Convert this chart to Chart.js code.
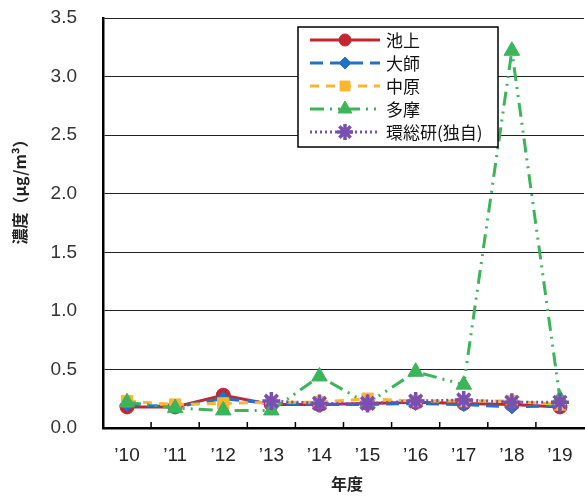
<!DOCTYPE html>
<html>
<head>
<meta charset="utf-8">
<script src="https://cdn.jsdelivr.net/npm/chart.js@4/dist/chart.umd.min.js"></script>
<style>
  html, body { margin: 0; padding: 0; background: #fff; }
  #wrap { width: 585px; height: 496px; }
</style>
</head>
<body>
<div id="wrap"><canvas id="line-canvas" width="585" height="496"></canvas></div>
<script>
// 年度ごとの濃度 (μg/m3)
var years = ["\u201910", "\u201911", "\u201912", "\u201913", "\u201914", "\u201915", "\u201916", "\u201917", "\u201918", "\u201919"];
var ikegami = [0.18, 0.18, 0.28, 0.20, 0.20, 0.21, 0.22, 0.21, 0.20, 0.18];
var daishi = [0.20, 0.18, 0.25, 0.21, 0.20, 0.20, 0.21, 0.20, 0.18, 0.19];
var nakahara = [0.23, 0.20, 0.21, 0.22, 0.22, 0.25, 0.23, 0.23, 0.23, 0.20];
var tama = [0.22, 0.17, 0.15, 0.15, 0.44, 0.21, 0.48, 0.37, 3.22, 0.25];
var kansoken = [null, null, null, 0.23, 0.21, 0.21, 0.23, 0.24, 0.22, 0.22];
var yTicks = [0, 0.5, 1.0, 1.5, 2.0, 2.5, 3.0, 3.5];

var fontName = "'Noto Sans CJK JP', 'Liberation Sans', sans-serif";
var numFont = "'Liberation Sans', 'DejaVu Sans', sans-serif";

function series(label, data, color, dash, style, radius, order) {
    return {
        label: label,
        data: data,
        borderColor: color,
        backgroundColor: color,
        borderWidth: 3,
        borderDash: dash,
        pointStyle: style,
        pointRadius: radius,
        pointBorderWidth: 1,
        pointBorderColor: color,
        pointBackgroundColor: color,
        tension: 0,
        spanGaps: false,
        order: order
    };
}

var datasets = [
    series("池上", ikegami, "#c4262e", [], "circle", 7, 5),
    series("大師", daishi, "#1f72c4", [13, 7], "rectRot", 7, 4),
    series("中原", nakahara, "#fbb62b", [9, 7], "rect", 8, 3),
    series("多摩", tama, "#3cb45a", [14, 6, 2, 6, 2, 6], "triangle", 9, 2),
    series("環総研(独自)", kansoken, "#7a4fb2", [2, 3], "star", 9, 1)
];
datasets[4].pointBorderWidth = 3.5;

// legend box, titles and inward x tick marks
var decorPlugin = {
    id: 'decor',
    afterDraw: function(chart) {
        var ctx = chart.ctx;
        var x = chart.scales.x;
        var area = chart.chartArea;
        ctx.save();

        // x tick marks between categories
        ctx.strokeStyle = "#000";
        ctx.lineWidth = 1.5;
        for (var i = 0; i < years.length - 1; i++) {
            var px = (x.getPixelForValue(i) + x.getPixelForValue(i + 1)) / 2;
            ctx.beginPath();
            ctx.moveTo(px, area.bottom);
            ctx.lineTo(px, area.bottom - 6);
            ctx.stroke();
        }

        // axis titles
        ctx.fillStyle = "#222";
        ctx.font = "bold 16px " + fontName;
        ctx.textAlign = "center";
        ctx.textBaseline = "middle";
        ctx.fillText("年度", 347, 484);
        ctx.save();
        ctx.translate(20, 188);
        ctx.rotate(-Math.PI / 2);
        ctx.fillText("濃度（μg/m³）", 0, 0);
        ctx.restore();

        // legend
        var lx = 298, ly = 27, lw = 200, lh = 120;
        ctx.fillStyle = "#fff";
        ctx.fillRect(lx, ly, lw, lh);
        ctx.strokeStyle = "#000";
        ctx.lineWidth = 1.5;
        ctx.strokeRect(lx, ly, lw, lh);
        ctx.font = "17px " + fontName;
        ctx.textAlign = "left";
        for (var j = 0; j < chart.data.datasets.length; j++) {
            var ds = chart.data.datasets[j];
            var ry = ly + 13 + j * 23;
            ctx.strokeStyle = ds.borderColor;
            ctx.lineWidth = ds.borderWidth;
            ctx.setLineDash(ds.borderDash);
            ctx.beginPath();
            ctx.moveTo(lx + 12, ry);
            ctx.lineTo(lx + 82, ry);
            ctx.stroke();
            ctx.setLineDash([]);
            ctx.fillStyle = ds.pointBackgroundColor;
            ctx.strokeStyle = ds.pointBorderColor;
            ctx.lineWidth = ds.pointBorderWidth;
            Chart.helpers.drawPoint(ctx, {pointStyle: ds.pointStyle, radius: ds.pointRadius - 1, rotation: 0, borderWidth: ds.pointBorderWidth}, lx + 47, ry);
            ctx.fillStyle = "#111";
            ctx.fillText(ds.label, lx + 88, ry + 1);
        }
        ctx.restore();
    }
};

var lineConfig = {
    type: 'line',
    data: {
        labels: years,
        datasets: datasets
    },
    options: {
        responsive: false,
        animation: false,
        devicePixelRatio: 1,
        layout: {
            autoPadding: false,
            padding: {top: 18, right: 1, left: 0, bottom: 0}
        },
        plugins: {
            legend: {display: false},
            tooltip: {enabled: false}
        },
        scales: {
            x: {
                type: 'category',
                offset: true,
                grid: {drawOnChartArea: false, drawTicks: true, tickLength: 14, tickColor: "rgba(0,0,0,0)", offset: false},
                border: {display: true, color: "#000", width: 2.5},
                ticks: {
                    color: "#222",
                    padding: 2,
                    maxRotation: 0,
                    font: {family: numFont, size: 19}
                },
                afterFit: function(scale) {
                    scale.height = 68;
                    scale.paddingLeft = 0;
                    scale.paddingRight = 0;
                }
            },
            y: {
                min: 0,
                max: 3.5,
                afterBuildTicks: function(scale) {
                    scale.ticks = yTicks.map(function(v) { return {value: v}; });
                },
                grid: {color: "#222", lineWidth: 1, drawTicks: true, tickLength: 24, tickColor: "rgba(0,0,0,0)"},
                border: {display: true, color: "#000", width: 2.5},
                ticks: {
                    color: "#333",
                    padding: 2,
                    font: {family: numFont, size: 19},
                    callback: function(v) { return v.toFixed(1); }
                },
                afterFit: function(scale) {
                    scale.width = 103;
                    scale.paddingTop = 0;
                    scale.paddingBottom = 0;
                }
            }
        }
    },
    plugins: [decorPlugin]
};

var ctx = document.getElementById('line-canvas').getContext('2d');
window.myLine = new Chart(ctx, lineConfig);
</script>
</body>
</html>
